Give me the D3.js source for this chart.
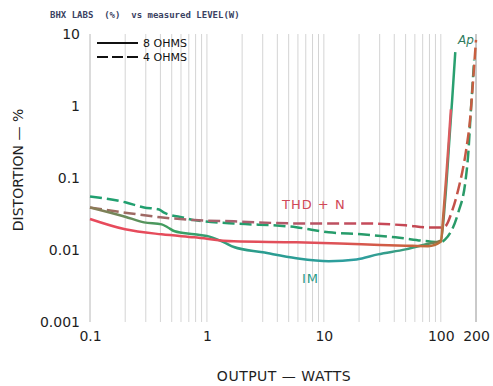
<!DOCTYPE html>
<html>
<head>
<meta charset="utf-8">
<script src="https://cdn.jsdelivr.net/npm/d3@7"></script>
<style>
  body { margin: 0; background: #fff; }
  svg { display: block; }
  .axis text { font-family: "DejaVu Sans"; font-size: 14px; fill: #1e1e1e; }
</style>
</head>
<body>
<script>
// [watts, distortion %]
const thd8 = [[0.1, 0.027], [0.2, 0.0194], [0.41, 0.0165], [0.78, 0.015], [1.7, 0.0132], [5.8, 0.0128],
  [21, 0.012], [50, 0.0115], [78, 0.0113], [100, 0.013], [105, 0.03], [112, 0.12], [118, 0.4], [122, 0.9]];
const im8 = [[0.1, 0.039], [0.2, 0.029], [0.29, 0.0242], [0.41, 0.0227], [0.46, 0.0207], [0.53, 0.0182],
  [0.78, 0.0165], [1.1, 0.015], [1.4, 0.0128], [1.7, 0.011], [3, 0.0093], [5.8, 0.0077], [11, 0.007],
  [19, 0.0074], [29, 0.0087], [50, 0.0102], [78, 0.0122], [100, 0.0135], [109, 0.05], [120, 0.47],
  [125, 1.2], [133, 5.6]];
const thd4 = [[0.1, 0.039], [0.2, 0.033], [0.4, 0.0285], [0.78, 0.026], [1.7, 0.025], [5.8, 0.0234],
  [20, 0.0234], [50, 0.022], [80, 0.0205], [100, 0.0205], [109, 0.0213], [125, 0.035], [141, 0.069],
  [165, 0.25], [178, 0.65], [189, 2.3], [200, 8.3]];
const im4 = [[0.1, 0.0555], [0.2, 0.046], [0.29, 0.039], [0.39, 0.0366], [0.43, 0.033], [0.64, 0.028],
  [0.78, 0.026], [1.7, 0.0234], [5.8, 0.0207], [11, 0.0176], [21, 0.0165], [41, 0.015], [78, 0.0132],
  [100, 0.0128], [109, 0.014], [141, 0.033], [162, 0.087], [171, 0.2], [181, 0.89], [193, 4.4]];

const xTicks = [0.1, 1, 10, 100, 200];
const yTicks = [0.001, 0.01, 0.1, 1, 10];
const legendItems = ["8 OHMS", "4 OHMS"];

let margin = {top: 34, right: 15, bottom: 63, left: 90},
  width = 493 - margin.left - margin.right,
  height = 386 - margin.top - margin.bottom;

let root = d3.select("body").append("svg")
  .attr("width", 493)
  .attr("height", 386);
let svg = root.append("g")
  .attr("transform", "translate(" + margin.left + "," + margin.top + ")");

let x = d3.scaleLog().domain([0.1, 200]).range([0, width - 2]);
let y = d3.scaleLog().domain([0.001, 10]).range([height - 1, 0]);

// log paper grid
let gridX = [];
for (let dec = 0.1; dec < 200; dec *= 10) {
  for (let k = 1; k < 10; k++) {
    let v = +(dec * k).toPrecision(3);
    if (v <= 200) gridX.push(v);
  }
}
gridX.push(200);
svg.append("g").selectAll("line")
  .data(gridX)
  .enter().append("line")
  .attr("x1", d => x(d)).attr("x2", d => x(d))
  .attr("y1", 0).attr("y2", height - 1)
  .attr("stroke", d => (d === 0.1 || d === 200) ? "#b8b8b8" : "#d4d4d4")
  .attr("stroke-width", 1);

svg.append("g")
  .attr("class", "axis")
  .call(d3.axisLeft(y).tickValues(yTicks).tickSize(0).tickPadding(10)
    .tickFormat(d => d3.format("")(d)))
  .select(".domain").remove();

svg.append("g")
  .attr("class", "axis")
  .attr("transform", "translate(0," + (height + 4) + ")")
  .call(d3.axisBottom(x).tickValues(xTicks).tickSize(0).tickPadding(4)
    .tickFormat(d => d3.format("")(d)))
  .select(".domain").remove();

// colour drift of the scanned pens, along x
let defs = root.append("defs");
function gradient(id, stops) {
  let g = defs.append("linearGradient")
    .attr("id", id)
    .attr("gradientUnits", "userSpaceOnUse")
    .attr("x1", x(0.1)).attr("x2", x(200))
    .attr("y1", 0).attr("y2", 0);
  stops.forEach(s => g.append("stop")
    .attr("offset", (x(s[0]) - x(0.1)) / (x(200) - x(0.1)))
    .attr("stop-color", s[1]));
}
gradient("gThd8", [[0.1, "#e84a5c"], [10, "#e0505a"], [50, "#cc6040"], [100, "#b8703a"], [120, "#e05a66"], [200, "#e05a66"]]);
gradient("gIm8", [[0.1, "#8c7a56"], [0.5, "#3aa060"], [3, "#2a9c90"], [20, "#2e9fa0"], [70, "#3f9c70"], [100, "#907040"], [115, "#2aa070"], [200, "#2aa070"]]);
gradient("gThd4", [[0.1, "#9a6e5e"], [2, "#a86070"], [30, "#c84858"], [100, "#c04850"], [200, "#c86040"]]);
gradient("gIm4", [[0.1, "#20a070"], [200, "#2a9a68"]]);

let line = d3.line()
  .x(d => x(d[0]))
  .y(d => y(d[1]))
  .curve(d3.curveMonotoneX);

let series = [
  {data: im4, color: "url(#gIm4)", dash: "12,5"},
  {data: thd4, color: "url(#gThd4)", dash: "12,5"},
  {data: im8, color: "url(#gIm8)", dash: null},
  {data: thd8, color: "url(#gThd8)", dash: null}
];
series.forEach(s => {
  svg.append("path")
    .datum(s.data)
    .attr("fill", "none")
    .attr("stroke", s.color)
    .attr("stroke-width", 2.5)
    .attr("stroke-dasharray", s.dash)
    .attr("d", line);
});

// legend
legendItems.forEach((t, i) => {
  svg.append("line")
    .attr("x1", 7).attr("x2", 48)
    .attr("y1", 9 + i * 14).attr("y2", 9 + i * 14)
    .attr("stroke", "#111")
    .attr("stroke-width", 2)
    .attr("stroke-dasharray", i === 1 ? "11,4" : null);
  svg.append("text")
    .attr("x", 53).attr("y", 13 + i * 14)
    .attr("font-family", "DejaVu Sans")
    .attr("font-size", 11)
    .attr("fill", "#111")
    .text(t);
});

svg.append("text")
  .attr("x", 192).attr("y", 175)
  .attr("font-family", "DejaVu Sans")
  .attr("font-size", 13)
  .attr("letter-spacing", 1)
  .attr("fill", "#d04858")
  .text("THD + N");

svg.append("text")
  .attr("x", 212).attr("y", 249)
  .attr("font-family", "DejaVu Sans")
  .attr("font-size", 13)
  .attr("letter-spacing", 1)
  .attr("fill", "#2a9a88")
  .text("IM");

svg.append("text")
  .attr("x", 368).attr("y", 10)
  .attr("font-family", "DejaVu Sans")
  .attr("font-style", "italic")
  .attr("font-size", 12)
  .attr("fill", "#2f7a5c")
  .text("Ap");

// titles
root.append("text")
  .attr("x", 50).attr("y", 18)
  .attr("font-family", "DejaVu Sans Mono")
  .attr("font-weight", "bold")
  .attr("font-size", 9)
  .attr("fill", "#3a4262")
  .style("white-space", "pre")
  .text("BHX LABS  (%)  vs measured LEVEL(W)");

root.append("text")
  .attr("x", 284).attr("y", 381)
  .attr("text-anchor", "middle")
  .attr("font-family", "DejaVu Sans")
  .attr("font-size", 14)
  .attr("letter-spacing", 0.5)
  .attr("fill", "#1e1e1e")
  .text("OUTPUT — WATTS");

root.append("text")
  .attr("transform", "translate(23,170) rotate(-90)")
  .attr("text-anchor", "middle")
  .attr("font-family", "DejaVu Sans")
  .attr("font-size", 14)
  .attr("fill", "#1e1e1e")
  .text("DISTORTION — %");
</script>
</body>
</html>
